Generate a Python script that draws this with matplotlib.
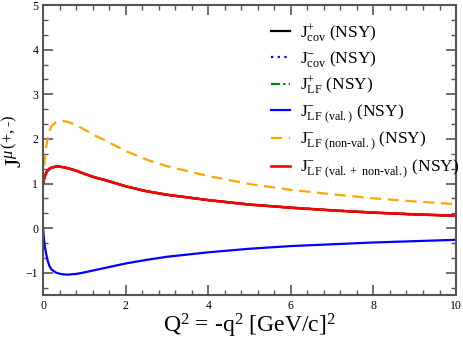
import matplotlib
matplotlib.use("Agg")
import matplotlib.pyplot as plt
from matplotlib.ticker import MultipleLocator

plt.rcParams['font.family'] = ['Liberation Serif', 'DejaVu Serif']
plt.rcParams['mathtext.fontset'] = 'custom'
plt.rcParams['mathtext.rm'] = 'Liberation Serif'
plt.rcParams['mathtext.it'] = 'Liberation Serif:italic'

q2 = [0, 0.025, 0.05, 0.1, 0.15, 0.2, 0.3, 0.4, 0.5, 0.6, 0.8, 1.0, 1.25, 1.5, 2, 2.5, 3, 3.5, 4, 5, 6, 7, 8, 9, 10]
j_total = [1.0, 1.11, 1.19, 1.28, 1.33, 1.355, 1.38, 1.38, 1.365, 1.345, 1.29, 1.22, 1.14, 1.08, 0.94, 0.83, 0.75, 0.69, 0.63, 0.53, 0.46, 0.40, 0.35, 0.31, 0.28]
j_val = [0.0, -0.27, -0.45, -0.69, -0.84, -0.92, -0.99, -1.02, -1.035, -1.04, -1.025, -0.99, -0.94, -0.89, -0.79, -0.71, -0.64, -0.59, -0.54, -0.46, -0.40, -0.36, -0.32, -0.29, -0.26]
j_nonval = [1.0, 1.38, 1.64, 1.97, 2.17, 2.28, 2.37, 2.40, 2.40, 2.385, 2.315, 2.21, 2.08, 1.97, 1.73, 1.54, 1.39, 1.28, 1.17, 0.99, 0.86, 0.76, 0.67, 0.60, 0.54]

labels = [
    r'$\mathrm{J}^{+}_{\mathrm{cov}}$ (NSY)',
    r'$\mathrm{J}^{-}_{\mathrm{cov}}$ (NSY)',
    r'$\mathrm{J}^{+}_{\mathrm{LF}}$ (NSY)',
    r'$\mathrm{J}^{-}_{\mathrm{LF\ (val.)}}$ (NSY)',
    r'$\mathrm{J}^{-}_{\mathrm{LF\ (non}\text{-}\mathrm{val.)}}$ (NSY)',
    r'$\mathrm{J}^{-}_{\mathrm{LF\ (val.+\ non}\text{-}\mathrm{val.)}}$ (NSY)',
]

fig = plt.figure(figsize=(4.63, 3.42), dpi=100)
ax = fig.add_axes([0.093, 0.137, 0.892, 0.848])

lw = 1.6
ax.plot(q2, j_total, color='black', lw=lw, label=labels[0])
ax.plot(q2, j_total, color='blue', lw=lw, ls=(0, (1, 2)), label=labels[1])
ax.plot(q2, j_total, color='green', lw=lw, ls=(0, (4, 1.5, 1, 1.5)), label=labels[2])
ax.plot(q2, j_val, color='blue', lw=lw, label=labels[3])
ax.plot(q2, j_nonval, color='orange', lw=lw, ls=(0, (5, 3)), label=labels[4])
ax.plot(q2, j_total, color='red', lw=lw + 0.3, label=labels[5])

ax.set_xlim(0, 10)
ax.set_ylim(-1.5, 5)
ax.xaxis.set_major_locator(MultipleLocator(2))
ax.xaxis.set_minor_locator(MultipleLocator(0.4))
ax.yaxis.set_major_locator(MultipleLocator(1))
ax.yaxis.set_minor_locator(MultipleLocator(1/3))
ax.tick_params(which='both', direction='in', top=True, right=True, colors='#555555', labelcolor='black', labelsize=8.5)
ax.tick_params(which='major', length=7, width=1.2)
ax.tick_params(which='minor', length=3.5, width=1.0)
for s in ax.spines.values():
    s.set_color('#555555')
    s.set_linewidth(1.5)

ax.set_xlabel(r'Q$^2$ = -q$^2$ [GeV/c]$^2$', fontsize=17, labelpad=0)
ax.set_ylabel(r'$\mathrm{J}^{\mu\,\mathrm{(+,}\text{-}\mathrm{)}}$', fontsize=17)
ax.yaxis.set_label_coords(-0.04, 0.53)

leg = ax.legend(loc='upper left', bbox_to_anchor=(0.535, 0.965), frameon=False,
                fontsize=12.5, handlelength=1.1, handletextpad=0.6, labelspacing=0.3,
                borderaxespad=0)

fig.savefig('out.png', dpi=100)
